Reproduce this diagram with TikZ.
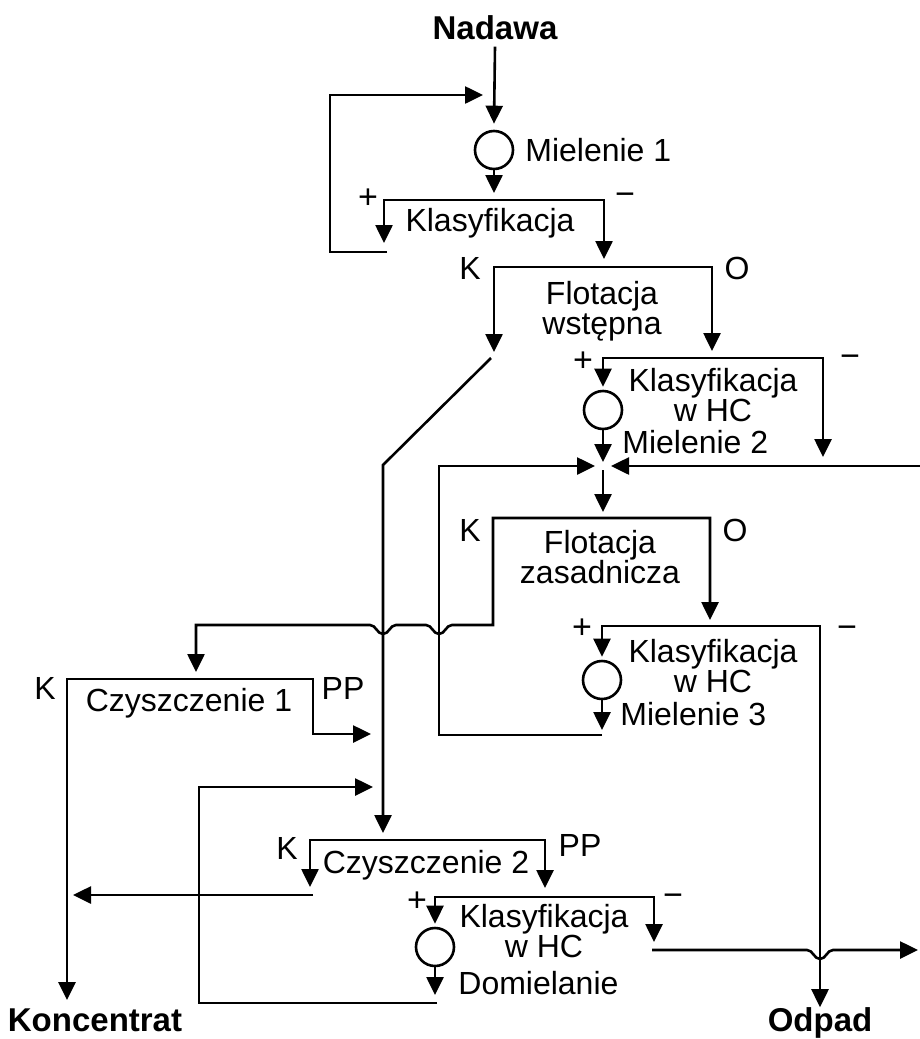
\documentclass[tikz,border=0pt]{standalone}
\usepackage{fontspec}
\setmainfont{Liberation Sans}
\usetikzlibrary{arrows.meta,calc}

\tikzset{
	flow/.style={line width=1.3pt},
	txt/.style={font=\fontsize{16}{15}\selectfont, inner sep=0pt, align=center},
	sgn/.style={font=\fontsize{17}{17}\selectfont, inner sep=0pt},
	mill/.style={circle, draw, line width=1.3pt, minimum size=19pt, inner sep=0pt},
	ends/.style={font=\bfseries\fontsize{16.5}{15}\selectfont, inner sep=0pt}
}

\begin{document}
\begin{tikzpicture}[x=0.5pt, y=-0.5pt, >={Triangle[length=9pt,width=8.5pt]}]
	\useasboundingbox (0,0) rectangle (920,1039);

	% feed, grinding 1, classification
	\node [ends] (nad) at (495,28) {Nadawa};
	\node [mill] (m1) at (494,150) {};
	\node [txt, anchor=west] (m1t) at (525,150) {Mielenie 1};
	\coordinate (k1a) at (384,200);
	\coordinate (k1b) at (604,200);
	\node [txt] (k1t) at (490,223) {Klasyfikacja};
	\node [sgn] (k1p) at (368,199) {+};
	\node [sgn] (k1m) at (625,199) {−};
	\draw [flow, ->] ([yshift=-3pt]nad.south) -- ([yshift=3pt]m1.north);
	\draw [flow, ->] (m1.south) -- ($(m1.south |- k1a)+(0,-7)$);
	\draw [flow, <->] ($(k1a)+(0,43)$) |- (k1b) -- ++(0,59);
	\coordinate (in1) at (483,95);
	\draw [flow, ->] ($(k1a)+(3,52)$) -| (330,95) -- (in1);

	% flotacja wstepna
	\coordinate (fwa) at (494,267);
	\coordinate (fwb) at (712,267);
	\node [txt] (fwt) at (602,311) {Flotacja\\wstępna};
	\node [txt] (fwk) at (470,268) {K};
	\node [txt] (fwo) at (737,268) {O};
	\draw [flow, <->] ($(fwa)+(0,85)$) |- (fwb) -- ++(0,84);
	\coordinate (c2in) at (383,840);
	\draw [flow, ->] ($(fwa)+(-3,91)$) -- (383,465) -- ($(c2in)+(0,-7)$);

	% classification in HC + grinding 2
	\coordinate (h2a) at (603,358);
	\coordinate (h2b) at (823,358);
	\node [mill] (m2) at (603,410) {};
	\node [txt] (h2t) at (713,395) {Klasyfikacja\\w HC};
	\node [txt, anchor=west] (m2t) at (622,442) {Mielenie 2};
	\node [sgn] (h2p) at (583,362) {+};
	\node [sgn] (h2m) at (850,361) {−};
	\draw [flow, <->] ([yshift=1.5pt]m2.north) |- (h2b) -- ++(0,99);
	\coordinate (j2) at (603,466);
	\draw [flow, ->] (m2.south) -- ($(j2)+(0,-4)$);
	\draw [flow, ->] (920,466) -- ($(j2)+(8,0)$);

	% flotacja zasadnicza
	\coordinate (fza) at (493,518);
	\coordinate (fzb) at (710,518);
	\coordinate (fzin) at (603,518);
	\node [txt] (fzt) at (600,557) {Flotacja\\zasadnicza};
	\node [txt] (fzk) at (470,530) {K};
	\node [txt] (fzo) at (735,530) {O};
	\draw [flow, ->] ($(j2)+(0,4)$) -- ($(fzin)+(0,-6)$);
	\draw [flow, <->] ($(fzb)+(0,102)$) -- (fzb) -- (fza) -- (493,625) -- (452,625)
		.. controls +(-6,0) and +(6,0) .. (439,634) .. controls +(-6,0) and +(6,0) .. (426,625)
		-- (396,625)
		.. controls +(-6,0) and +(6,0) .. (383,634) .. controls +(-6,0) and +(6,0) .. (370,625)
		-- (196,625) -- (196,672);

	% classification in HC + grinding 3
	\coordinate (h3a) at (602,626);
	\coordinate (h3b) at (820,626);
	\node [mill] (m3) at (602,680) {};
	\node [txt] (h3t) at (713,666) {Klasyfikacja\\w HC};
	\node [txt, anchor=west] (m3t) at (620,714) {Mielenie 3};
	\node [sgn] (h3p) at (582,629) {+};
	\node [sgn] (h3m) at (847,632) {−};
	\node [ends] (odp) at (820,1023) {Odpad};
	\draw [flow, <->] ([yshift=1.5pt]m3.north) |- (h3b) -- (odp.north);
	\coordinate (r3) at (602,735);
	\draw [flow, ->] (m3.south) -- ($(r3)+(0,-5)$);
	\draw [flow, ->] (r3) -| (439,466) -- ($(j2)+(-8,0)$);

	% czyszczenie 1
	\coordinate (c1a) at (67,679);
	\coordinate (c1b) at (313,679);
	\node [txt] (c1t) at (189,703) {Czyszczenie 1};
	\node [txt] (c1k) at (45,688) {K};
	\node [txt] (c1pp) at (343,688) {PP};
	\node [ends] (kon) at (95,1020) {Koncentrat};
	\coordinate (pp1) at (371,734);
	\draw [flow, <->] ($(c1a |- kon.north)+(0,-8)$) -- (c1a) -- (c1b) |- (pp1);

	% czyszczenie 2
	\coordinate (c2a) at (310,840);
	\coordinate (c2b) at (545,840);
	\node [txt] (c2t) at (426,865) {Czyszczenie 2};
	\node [txt] (c2k) at (287,848) {K};
	\node [txt] (c2pp) at (580,845) {PP};
	\draw [flow, <->] ($(c2a)+(0,47)$) -- (c2a) -- (c2b) -- ++(0,48);
	\coordinate (k2) at (73,895);
	\draw [flow, ->] (313,895) -- (k2);

	% classification in HC + regrinding
	\coordinate (h4a) at (435,897);
	\coordinate (h4b) at (654,897);
	\node [mill] (m4) at (435,947) {};
	\node [txt] (h4t) at (544,931) {Klasyfikacja\\w HC};
	\node [txt, anchor=west] (m4t) at (458,983) {Domielanie};
	\node [sgn] (h4p) at (417,902) {+};
	\node [sgn] (h4m) at (673,900) {−};
	\draw [flow, <->] ([yshift=1.5pt]m4.north) |- (h4b) -- ++(0,45);
	\coordinate (r4) at (437,1003);
	\draw [flow, ->] (m4.south) -- ($(r4)+(-2,-8)$);
	\coordinate (in4) at (373,787);
	\draw [flow, ->] (r4) -| (199,787) -- (in4);
	\coordinate (out4) at (918,950);
	\draw [flow, ->] (652,950) -- (807,950)
		.. controls +(6,0) and +(-6,0) .. (820,959) .. controls +(6,0) and +(-6,0) .. (833,950)
		-- (out4);
\end{tikzpicture}
\end{document}
